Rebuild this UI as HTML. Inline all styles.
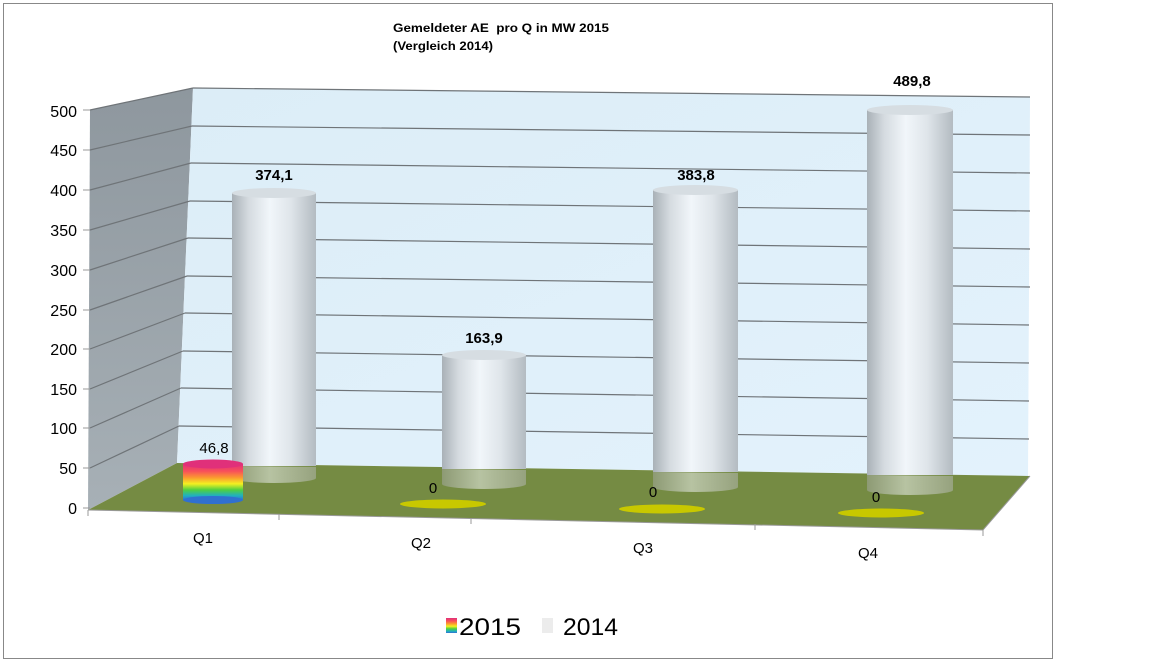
<!DOCTYPE html>
<html><head><meta charset="utf-8"><style>
html,body{margin:0;padding:0;background:#fff;}
svg{display:block;font-family:"Liberation Sans",sans-serif;}
</style></head><body>
<svg width="1152" height="664" viewBox="0 0 1152 664">
<defs>
<linearGradient id="wall" x1="0" y1="0" x2="1" y2="1">
<stop offset="0" stop-color="#dcedf7"/><stop offset="1" stop-color="#e3f2fc"/></linearGradient>
<linearGradient id="side" x1="0" y1="0" x2="0" y2="1">
<stop offset="0" stop-color="#8e979e"/><stop offset="1" stop-color="#a7b0b6"/></linearGradient>
<linearGradient id="cyl" x1="0" y1="0" x2="1" y2="0">
<stop offset="0" stop-color="#a9b1b7"/><stop offset="0.2" stop-color="#d5dbe0"/><stop offset="0.45" stop-color="#f1f6fa"/><stop offset="0.7" stop-color="#dfe5ea"/><stop offset="1" stop-color="#b3bbc1"/></linearGradient>
<linearGradient id="cylg" x1="0" y1="0" x2="1" y2="0">
<stop offset="0" stop-color="#8d9a74"/><stop offset="0.45" stop-color="#b7c3a2"/><stop offset="1" stop-color="#96a27e"/></linearGradient>
<linearGradient id="rain" x1="0" y1="0" x2="0" y2="1">
<stop offset="0" stop-color="#e0307a"/><stop offset="0.2" stop-color="#f8505a"/><stop offset="0.38" stop-color="#fb9a30"/><stop offset="0.55" stop-color="#f4f020"/><stop offset="0.72" stop-color="#50d040"/><stop offset="0.88" stop-color="#20b0c0"/><stop offset="1" stop-color="#3070d0"/></linearGradient>
</defs>
<rect x="3.5" y="3.5" width="1049" height="655" fill="#fff" stroke="#888" stroke-width="1"/>
<text x="393" y="32" font-size="12" font-weight="bold" textLength="216" lengthAdjust="spacingAndGlyphs" xml:space="preserve">Gemeldeter AE  pro Q in MW 2015</text>
<text x="393" y="50" font-size="12" font-weight="bold" textLength="100" lengthAdjust="spacingAndGlyphs">(Vergleich 2014)</text>
<polygon points="90,110 193,88 177,463 88,510" fill="url(#side)"/>
<polygon points="193,88 1030,97 1028,476 177,463" fill="url(#wall)"/>
<g stroke="#6f7478" stroke-width="1.2" fill="none">
<line x1="90" y1="110" x2="193" y2="88"/><line x1="193" y1="88" x2="1030" y2="97"/>
<line x1="90" y1="150" x2="192" y2="126"/><line x1="192" y1="126" x2="1030" y2="135"/>
<line x1="90" y1="190" x2="191" y2="163"/><line x1="191" y1="163" x2="1030" y2="173"/>
<line x1="90" y1="230" x2="190" y2="201"/><line x1="190" y1="201" x2="1030" y2="211"/>
<line x1="90" y1="270" x2="188" y2="238"/><line x1="188" y1="238" x2="1030" y2="249"/>
<line x1="90" y1="310" x2="187" y2="276"/><line x1="187" y1="276" x2="1030" y2="287"/>
<line x1="90" y1="349" x2="185" y2="313"/><line x1="185" y1="313" x2="1029" y2="325"/>
<line x1="90" y1="389" x2="183" y2="351"/><line x1="183" y1="351" x2="1029" y2="363"/>
<line x1="90" y1="428" x2="181" y2="388"/><line x1="181" y1="388" x2="1029" y2="401"/>
<line x1="90" y1="468" x2="179" y2="426"/><line x1="179" y1="426" x2="1029" y2="439"/>
</g>
<polygon points="177,463 1030,476 983,530 88,510" fill="#758b43"/>
<polyline points="88,510 983,530 1030,476" fill="none" stroke="#999" stroke-width="1"/>
<g stroke="#999"><line x1="88" y1="510" x2="88" y2="516"/><line x1="279" y1="514" x2="279" y2="520"/><line x1="471" y1="518" x2="471" y2="524"/><line x1="755" y1="524" x2="755" y2="530"/><line x1="983" y1="530" x2="983" y2="536"/></g>
<g>
<rect x="232" y="193" width="84" height="273" fill="url(#cyl)"/>
<path d="M232 466 L316 467 L316 478 A42 5 0 0 1 232 478 Z" fill="url(#cylg)"/>
<ellipse cx="274" cy="193" rx="42" ry="5" fill="#d6dde2"/>
<rect x="442" y="355" width="84" height="114" fill="url(#cyl)"/>
<path d="M442 469 L526 470 L526 484 A42 5 0 0 1 442 484 Z" fill="url(#cylg)"/>
<ellipse cx="484" cy="355" rx="42" ry="5" fill="#d6dde2"/>
<rect x="653" y="190" width="85" height="282" fill="url(#cyl)"/>
<path d="M653 472 L738 473 L738 487 A42.5 5 0 0 1 653 487 Z" fill="url(#cylg)"/>
<ellipse cx="695.5" cy="190" rx="42.5" ry="5" fill="#d6dde2"/>
<rect x="867" y="110" width="86" height="365" fill="url(#cyl)"/>
<path d="M867 475 L953 476 L953 490 A43 5 0 0 1 867 490 Z" fill="url(#cylg)"/>
<ellipse cx="910" cy="110" rx="43" ry="5" fill="#d6dde2"/>
</g>
<rect x="183" y="464" width="60" height="36" fill="url(#rain)"/>
<ellipse cx="213" cy="500" rx="30" ry="4" fill="#3070d0"/>
<ellipse cx="213" cy="464" rx="30" ry="4.5" fill="#e0307a"/>
<ellipse cx="443" cy="504" rx="43" ry="4.5" fill="#c8c800"/>
<ellipse cx="662" cy="509" rx="43" ry="4.5" fill="#c8c800"/>
<ellipse cx="881" cy="513" rx="43" ry="4.5" fill="#c8c800"/>
<g font-size="15" font-weight="bold" text-anchor="middle">
<text x="274" y="180">374,1</text><text x="484" y="343">163,9</text>
<text x="696" y="180">383,8</text><text x="912" y="86">489,8</text></g>
<g font-size="15" text-anchor="middle">
<text x="214" y="453">46,8</text><text x="433" y="493">0</text>
<text x="653" y="497">0</text><text x="876" y="502">0</text></g>
<g font-size="16" text-anchor="end">
<text x="77" y="117">500</text><text x="77" y="156">450</text><text x="77" y="196">400</text>
<text x="77" y="236">350</text><text x="77" y="276">300</text><text x="77" y="316">250</text>
<text x="77" y="355">200</text><text x="77" y="395">150</text><text x="77" y="434">100</text>
<text x="77" y="474">50</text><text x="77" y="514">0</text></g>
<g stroke="#999"><line x1="83" y1="110" x2="90" y2="110"/><line x1="83" y1="150" x2="90" y2="150"/><line x1="83" y1="190" x2="90" y2="190"/><line x1="83" y1="230" x2="90" y2="230"/><line x1="83" y1="270" x2="90" y2="270"/><line x1="83" y1="310" x2="90" y2="310"/><line x1="83" y1="349" x2="90" y2="349"/><line x1="83" y1="389" x2="90" y2="389"/><line x1="83" y1="428" x2="90" y2="428"/><line x1="83" y1="468" x2="90" y2="468"/><line x1="83" y1="508" x2="90" y2="508"/></g>
<g font-size="15" text-anchor="middle">
<text x="203" y="543">Q1</text><text x="421" y="548">Q2</text><text x="643" y="553">Q3</text><text x="868" y="558">Q4</text></g>
<rect x="446" y="618" width="11" height="15" fill="url(#rain)"/>
<text x="459" y="635" font-size="24" textLength="62" lengthAdjust="spacingAndGlyphs">2015</text>
<rect x="542" y="618" width="11" height="15" fill="#ececec"/>
<text x="563" y="635" font-size="24" textLength="55" lengthAdjust="spacingAndGlyphs">2014</text>
</svg>
</body></html>
